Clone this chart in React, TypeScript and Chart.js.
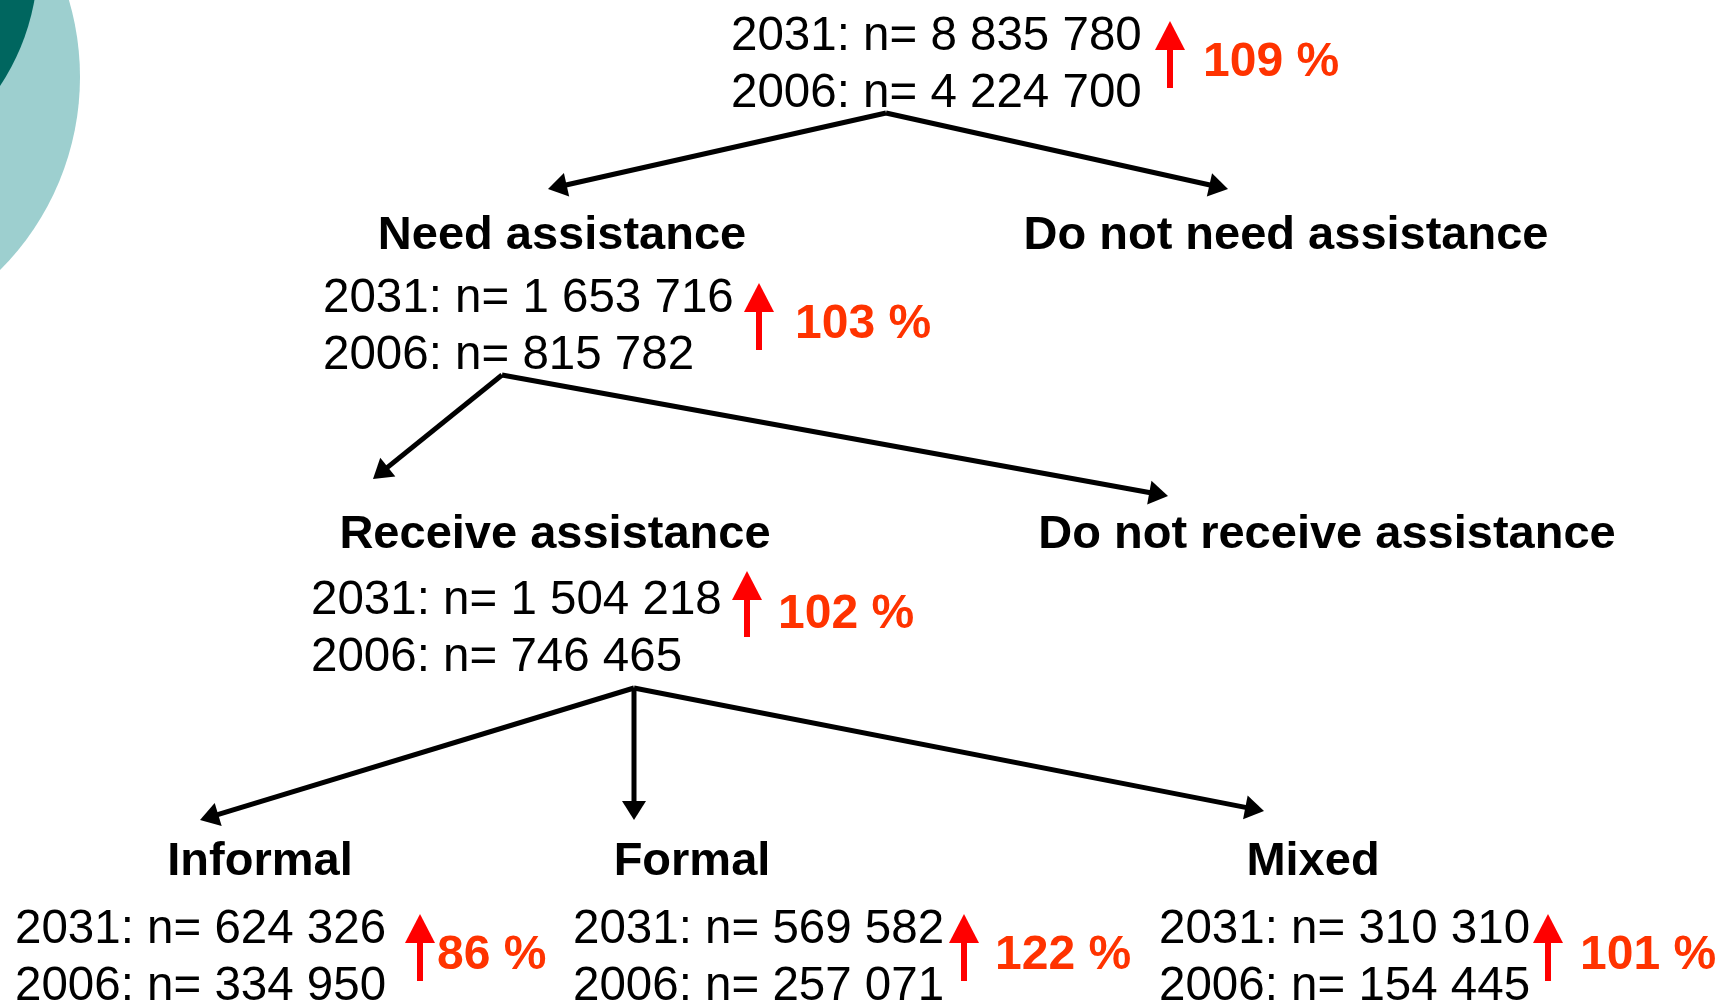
import { useEffect, useRef } from "react";
import { Chart, registerables } from "chart.js";

Chart.register(...registerables);

// ---------- data ----------
const categories = [
  "All",
  "Need assistance",
  "Do not need assistance",
  "Receive assistance",
  "Do not receive assistance",
  "Informal",
  "Formal",
  "Mixed",
];
const yearLabels = ["2031", "2006"];
const n2031: (number | null)[] = [8835780, 1653716, null, 1504218, null, 624326, 569582, 310310];
const n2006: (number | null)[] = [4224700, 815782, null, 746465, null, 334950, 257071, 154445];
const pctChange: (number | null)[] = [109, 103, null, 102, null, 86, 122, 101];
const parentOf: (number | null)[] = [null, 0, 0, 1, 1, 3, 3, 3];

// ---------- layout (in a 1719 x 1001 coordinate space) ----------
const W = 1719;
const H = 1001;
// title: [centerX, baseline]
const titlePos: ([number, number] | null)[] = [
  null,
  [562, 249],
  [1286, 249],
  [555, 548],
  [1327, 548],
  [260, 875],
  [692, 875],
  [1313, 875],
];
// stats: [left, baseline1, arrowX, pctLeft, arrowTopOff, arrowBottomOff, pctOff]
const statPos: (number[] | null)[] = [
  [731, 50, 1170, 1203, -29, 38, 26],
  [323, 312, 759, 795, -29, 38, 26],
  null,
  [311, 614, 747, 778, -43, 23, 14],
  null,
  [15, 943, 420, 437, -29, 38, 26],
  [573, 943, 964, 995, -29, 38, 26],
  [1159, 943, 1548, 1580, -29, 38, 26],
];
const forkPos: Record<number, [number, number]> = {
  0: [886, 113],
  1: [502, 375],
  3: [634, 688],
};
const tipPos: ([number, number] | null)[] = [
  null,
  [548, 189],
  [1228, 189],
  [373, 479],
  [1168, 496],
  [200, 820],
  [634, 820],
  [1264, 811],
];

const FONT = '"Liberation Sans", Arial, Helvetica, sans-serif';
const HEAD_LEN = 19;
const HEAD_HALF = 12;

const fmt = (v: number) => String(v).replace(/\B(?=(\d{3})+(?!\d))/g, " ");

function edgeData(child: number) {
  const p = parentOf[child] as number;
  const [fx, fy] = forkPos[p];
  const [tx, ty] = tipPos[child] as [number, number];
  const dx = tx - fx;
  const dy = ty - fy;
  const len = Math.hypot(dx, dy);
  const bx = tx - (dx / len) * (HEAD_LEN - 4);
  const by = ty - (dy / len) * (HEAD_LEN - 4);
  return [
    { x: fx, y: fy },
    { x: bx, y: by },
  ];
}

const treePlugin = {
  id: "treePlugin",
  beforeDatasetsDraw(chart: any) {
    const { ctx, scales } = chart;
    const X = (v: number) => scales.x.getPixelForValue(v);
    const Y = (v: number) => scales.y.getPixelForValue(v);
    const sx = Math.abs(X(1) - X(0));
    ctx.save();
    ctx.fillStyle = "#9dcfcf";
    ctx.beginPath();
    ctx.arc(X(-193), Y(77), 273 * sx, 0, Math.PI * 2);
    ctx.fill();
    ctx.fillStyle = "#00665f";
    ctx.beginPath();
    ctx.arc(X(-190), Y(-40), 228 * sx, 0, Math.PI * 2);
    ctx.fill();
    ctx.restore();
  },
  afterDatasetsDraw(chart: any) {
    const { ctx, scales } = chart;
    const X = (v: number) => scales.x.getPixelForValue(v);
    const Y = (v: number) => scales.y.getPixelForValue(v);
    ctx.save();
    // arrowheads
    ctx.fillStyle = "#000";
    categories.forEach((_, i) => {
      if (parentOf[i] === null) return;
      const [fx, fy] = forkPos[parentOf[i] as number];
      const [tx, ty] = tipPos[i] as [number, number];
      const ang = Math.atan2(Y(ty) - Y(fy), X(tx) - X(fx));
      const px = X(tx);
      const py = Y(ty);
      ctx.beginPath();
      ctx.moveTo(px, py);
      ctx.lineTo(
        px - HEAD_LEN * Math.cos(ang) + HEAD_HALF * Math.sin(ang),
        py - HEAD_LEN * Math.sin(ang) - HEAD_HALF * Math.cos(ang)
      );
      ctx.lineTo(
        px - HEAD_LEN * Math.cos(ang) - HEAD_HALF * Math.sin(ang),
        py - HEAD_LEN * Math.sin(ang) + HEAD_HALF * Math.cos(ang)
      );
      ctx.closePath();
      ctx.fill();
    });

    // titles
    ctx.textBaseline = "alphabetic";
    categories.forEach((name, i) => {
      const tp = titlePos[i];
      if (!tp) return;
      ctx.font = `bold 47px ${FONT}`;
      ctx.fillStyle = "#000";
      ctx.textAlign = "center";
      ctx.fillText(name, X(tp[0]), Y(tp[1]));
    });

    // stats
    categories.forEach((_, i) => {
      const sp = statPos[i];
      if (!sp || n2031[i] === null) return;
      const [left, base, ax, pl, aTop, aBot, pOff] = sp;
      ctx.font = `47.5px ${FONT}`;
      ctx.fillStyle = "#000";
      ctx.textAlign = "left";
      ctx.fillText(`${yearLabels[0]}: n= ${fmt(n2031[i] as number)}`, X(left), Y(base));
      ctx.fillText(`${yearLabels[1]}: n= ${fmt(n2006[i] as number)}`, X(left), Y(base + 57));
      // red arrow
      const top = Y(base + aTop);
      const bot = Y(base + aBot);
      const cx = X(ax);
      ctx.fillStyle = "#ff0000";
      ctx.fillRect(cx - 3, top + 27, 6, bot - top - 27);
      ctx.beginPath();
      ctx.moveTo(cx, top);
      ctx.lineTo(cx + 15, top + 29);
      ctx.lineTo(cx - 15, top + 29);
      ctx.closePath();
      ctx.fill();
      // percent
      ctx.font = `bold 48px ${FONT}`;
      ctx.fillStyle = "#ff3300";
      ctx.fillText(`${pctChange[i]} %`, X(pl), Y(base + pOff));
    });
    ctx.restore();
  },
};

export default function App() {
  const ref = useRef<HTMLCanvasElement | null>(null);
  useEffect(() => {
    if (!ref.current) return;
    const datasets = categories
      .map((name, i) => (parentOf[i] === null ? null : { label: name, data: edgeData(i) }))
      .filter(Boolean)
      .map((d: any) => ({
        ...d,
        showLine: true,
        borderColor: "#000",
        borderWidth: 5,
        pointRadius: 0,
        pointHoverRadius: 0,
        fill: false,
        tension: 0,
        clip: false,
      }));
    const chart = new Chart(ref.current, {
      type: "scatter",
      data: { datasets },
      options: {
        animation: false,
        responsive: true,
        maintainAspectRatio: false,
        layout: { padding: 0 },
        events: [],
        plugins: { legend: { display: false }, tooltip: { enabled: false } },
        scales: {
          x: { type: "linear", min: 0, max: W, display: false },
          y: { type: "linear", min: 0, max: H, reverse: true, display: false },
        },
      },
      plugins: [treePlugin],
    });
    return () => chart.destroy();
  }, []);
  return (
    <div
      style={{
        position: "fixed",
        left: 0,
        top: 0,
        width: W,
        height: H,
        background: "#fff",
        overflow: "hidden",
      }}
    >
      <canvas ref={ref} />
    </div>
  );
}
